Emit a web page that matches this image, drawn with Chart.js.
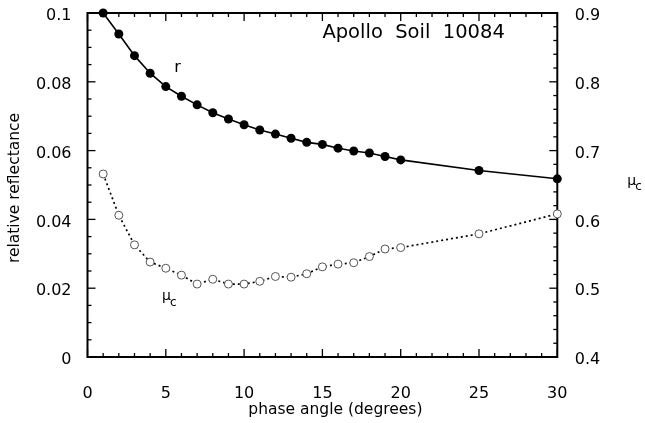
<!DOCTYPE html>
<html>
<head>
<meta charset="utf-8">
<script src="https://cdn.jsdelivr.net/npm/chart.js@4/dist/chart.umd.min.js"></script>
<style>
  body { margin: 0; background: #fff; }
  #wrap { width: 645px; height: 423px; }
</style>
</head>
<body>
<div id="wrap"><canvas id="soilChart" width="645" height="423"></canvas></div>
<script>
// phase angle (degrees)
var phaseAngle = [1, 2, 3, 4, 5, 6, 7, 8, 9, 10, 11, 12, 13, 14, 15, 16, 17, 18, 19, 20, 25, 30];
// r, relative reflectance (left axis)
var reflectance = [0.1000, 0.0939, 0.0876, 0.0825, 0.0786, 0.0758, 0.0733, 0.0710, 0.0692, 0.0675, 0.0660,
                   0.0648, 0.0636, 0.0624, 0.0618, 0.0607, 0.0599, 0.0593, 0.0583, 0.0573, 0.0542, 0.0518];
// mu_c (right axis)
var muC = [0.666, 0.606, 0.563, 0.538, 0.529, 0.519, 0.506, 0.513, 0.506, 0.506, 0.510,
           0.517, 0.516, 0.521, 0.531, 0.535, 0.537, 0.546, 0.557, 0.559, 0.579, 0.608];

// tick labels
var xTicks = [0, 5, 10, 15, 20, 25, 30];
var leftTicks = [0, 0.02, 0.04, 0.06, 0.08, 0.1];
var rightTicks = [0.4, 0.5, 0.6, 0.7, 0.8, 0.9];

var FONT = '"DejaVu Sans", sans-serif';

function toPoints(xs, ys) {
    return xs.map(function (x, i) { return { x: x, y: ys[i] }; });
}

function setTicks(list) {
    return function (scale) {
        scale.ticks = list.map(function (v) { return { value: v }; });
    };
}

// fixed box size, no extra label overflow padding
function fixSize(w, h) {
    return function (scale) {
        if (w) scale.width = w;
        if (h) scale.height = h;
        scale.paddingTop = 0;
        scale.paddingBottom = 0;
        scale.paddingLeft = 0;
        scale.paddingRight = 0;
    };
}

function line(ctx, x1, y1, x2, y2) {
    ctx.beginPath();
    ctx.moveTo(x1, y1);
    ctx.lineTo(x2, y2);
    ctx.stroke();
}

// frame + inward tick marks on all four sides
var framePlugin = {
    id: 'frame',
    beforeDatasetsDraw: function (chart) {
        var ctx = chart.ctx, a = chart.chartArea, s = chart.scales;
        ctx.save();
        ctx.strokeStyle = '#000';
        ctx.lineWidth = 2;
        ctx.strokeRect(a.left, a.top, a.right - a.left, a.bottom - a.top);
        ctx.lineWidth = 1.3;
        var i, p, len;
        for (i = 0; i <= 30; i++) {
            p = s.x.getPixelForValue(i);
            len = i % 5 === 0 ? 8 : 4;
            line(ctx, p, a.bottom, p, a.bottom - len);
            line(ctx, p, a.top, p, a.top + len);
        }
        for (i = 0; i <= 20; i++) {
            p = s.y.getPixelForValue(i * 0.005);
            len = i % 4 === 0 ? 8 : 4;
            line(ctx, a.left, p, a.left + len, p);
        }
        for (i = 0; i <= 25; i++) {
            p = s.y1.getPixelForValue(0.4 + i * 0.02);
            len = i % 5 === 0 ? 8 : 4;
            line(ctx, a.right, p, a.right - len, p);
        }
        ctx.restore();
    },
    afterDraw: function (chart) {
        var ctx = chart.ctx, a = chart.chartArea, s = chart.scales;
        ctx.save();
        ctx.fillStyle = '#000';

        // sample name
        ctx.font = '19.5px ' + FONT;
        ctx.textAlign = 'left';
        ctx.textBaseline = 'middle';
        ctx.fillText('Apollo  Soil  10084', s.x.getPixelForValue(15), s.y.getPixelForValue(0.0942));

        // curve labels
        ctx.font = '16px ' + FONT;
        ctx.textAlign = 'center';
        ctx.fillText('r', s.x.getPixelForValue(5.75), s.y.getPixelForValue(0.084));

        var mx = s.x.getPixelForValue(4.76), my = s.y.getPixelForValue(0.0175);
        ctx.textAlign = 'left';
        ctx.font = '14px ' + FONT;
        ctx.fillText('μ', mx, my);
        var w = ctx.measureText('μ').width;
        ctx.font = '12px ' + FONT;
        ctx.fillText('c', mx + w - 1, my + 6);

        // right axis title
        var rx = a.right + 70, ry = s.y1.getPixelForValue(0.656);
        ctx.font = '14px ' + FONT;
        ctx.fillText('μ', rx, ry);
        w = ctx.measureText('μ').width;
        ctx.font = '12px ' + FONT;
        ctx.fillText('c', rx + w - 1, ry + 6);

        // x axis title
        ctx.font = '15.5px ' + FONT;
        ctx.textAlign = 'center';
        ctx.fillText('phase angle (degrees)', (a.left + a.right) / 2 + 13, 410);

        // left axis title
        ctx.translate(15, (a.top + a.bottom) / 2 + 3);
        ctx.rotate(-Math.PI / 2);
        ctx.font = '15.5px ' + FONT;
        ctx.fillText('relative reflectance', 0, 0);
        ctx.restore();
    }
};

document.addEventListener('DOMContentLoaded', function () {
    var ctx = document.getElementById('soilChart').getContext('2d');
    new Chart(ctx, {
        type: 'line',
        data: {
            datasets: [
                {
                    label: 'r',
                    data: toPoints(phaseAngle, reflectance),
                    yAxisID: 'y',
                    borderColor: '#000',
                    borderWidth: 1.6,
                    pointBackgroundColor: '#000',
                    pointBorderColor: '#000',
                    pointRadius: 4.5,
                    pointBorderWidth: 0,
                    tension: 0,
                    clip: false
                },
                {
                    label: 'μc',
                    data: toPoints(phaseAngle, muC),
                    yAxisID: 'y1',
                    borderColor: '#000',
                    borderWidth: 1.7,
                    borderDash: [2, 3],
                    pointBackgroundColor: '#fff',
                    pointBorderColor: '#555',
                    pointRadius: 4,
                    pointBorderWidth: 1,
                    tension: 0,
                    clip: false
                }
            ]
        },
        options: {
            responsive: false,
            animation: false,
            events: [],
            layout: { padding: { top: 13, left: 0, right: 0, bottom: 0 } },
            plugins: {
                legend: { display: false },
                tooltip: { enabled: false }
            },
            scales: {
                x: {
                    type: 'linear',
                    min: 0,
                    max: 30,
                    afterBuildTicks: setTicks(xTicks),
                    afterFit: fixSize(0, 66),
                    grid: { display: false, drawTicks: false },
                    border: { display: false },
                    ticks: {
                        padding: 27,
                        color: '#000',
                        font: { family: FONT, size: 16 },
                        maxRotation: 0,
                        callback: function (v) { return String(v); }
                    }
                },
                y: {
                    position: 'left',
                    min: 0,
                    max: 0.1,
                    afterBuildTicks: setTicks(leftTicks),
                    afterFit: fixSize(87.5, 0),
                    grid: { display: false, drawTicks: false },
                    border: { display: false },
                    ticks: {
                        padding: 16,
                        labelOffset: 3,
                        color: '#000',
                        font: { family: FONT, size: 16 },
                        callback: function (v) { return String(+v.toFixed(3)); }
                    }
                },
                y1: {
                    position: 'right',
                    min: 0.4,
                    max: 0.9,
                    afterBuildTicks: setTicks(rightTicks),
                    afterFit: fixSize(87.7, 0),
                    grid: { display: false, drawTicks: false },
                    border: { display: false },
                    ticks: {
                        padding: 17.5,
                        labelOffset: 3,
                        color: '#000',
                        font: { family: FONT, size: 16 },
                        callback: function (v) { return String(+v.toFixed(2)); }
                    }
                }
            }
        },
        plugins: [framePlugin]
    });
});
</script>
</body>
</html>
